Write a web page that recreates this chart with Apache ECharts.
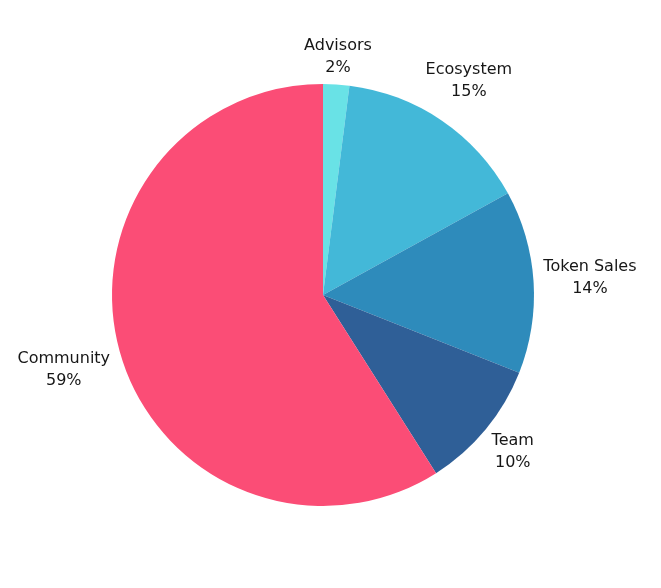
<!DOCTYPE html>
<html><head><meta charset="utf-8">
<script src="https://cdn.jsdelivr.net/npm/echarts@6/dist/echarts.min.js"></script>
<style>html,body{margin:0;padding:0;background:#fff}#c{width:661px;height:588px}</style>
</head><body><div id="c"></div>
<script>
const categories = ['Advisors', 'Ecosystem', 'Token Sales', 'Team', 'Community'];
const values = [2, 15, 14, 10, 59];
const colors = ['#69e2e6', '#43b8d8', '#2e8bbb', '#2f5f97', '#fb4d76'];

const CX = 323, CY = 295, R = 211, GAP = 3, WF = 1.12;
const total = values.reduce((a, b) => a + b, 0);
const mids = [];
let acc = 0;
values.forEach(v => { mids.push((acc + v / 2) / total * Math.PI * 2); acc += v; });

const chart = echarts.init(document.getElementById('c'), null, {renderer: 'canvas'});
chart.setOption({
  animation: false,
  color: colors,
  series: [{
    type: 'pie',
    center: [CX, CY],
    radius: R,
    startAngle: 90,
    clockwise: true,
    avoidLabelOverlap: false,
    data: categories.map((n, i) => ({name: n, value: values[i]})),
    label: {
      show: true,
      position: 'outside',
      overflow: 'none',
      formatter: p => p.name + '\n' + p.value + '%',
      fontFamily: '"DejaVu Sans", sans-serif',
      fontSize: 16,
      lineHeight: 22,
      color: '#161616',
      align: 'center'
    },
    labelLine: {show: false},
    labelLayout: function (params) {
      const a = mids[params.dataIndex];
      const dx = Math.sin(a), dy = -Math.cos(a);
      const w = params.labelRect.width * WF, h = params.labelRect.height;
      const d = R + GAP + Math.abs(dx) * w / 2 + Math.abs(dy) * h / 2;
      return {x: CX + d * dx, y: CY + d * dy, align: 'center', verticalAlign: 'middle'};
    },
    itemStyle: {borderWidth: 0},
    emphasis: {disabled: true}
  }]
});
</script></body></html>
